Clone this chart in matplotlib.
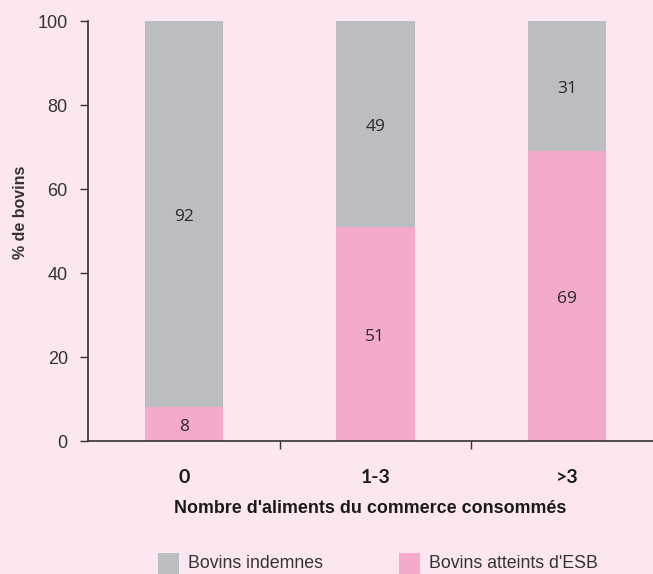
import matplotlib
matplotlib.use("Agg")
import matplotlib.pyplot as plt
from matplotlib.patches import Rectangle

categories = ["0", "1-3", ">3"]
esb = [8, 51, 69]
indemnes = [92, 49, 31]
yticks = [0, 20, 40, 60, 80, 100]
legend_labels = ["Bovins indemnes", "Bovins atteints d'ESB"]

bg = "#FCE6F0"
gray = "#BCBDC0"
pink = "#F3AACB"
txt = "#333333"

plt.rcParams['font.family'] = ['Liberation Sans', 'DejaVu Sans']

W, H = 653, 574
fig = plt.figure(figsize=(W/100, H/100), dpi=100, facecolor=bg)
ax = fig.add_axes([88/W, 1-441/H, 1-88/W, 420/H])
ax.set_facecolor(bg)

x = list(range(len(categories)))
w = 0.41
ax.bar(x, esb, width=w, color=pink, zorder=2)
ax.bar(x, indemnes, width=w, bottom=esb, color=gray, zorder=2)

for i in x:
    for val, ypos in ((esb[i], esb[i]/2), (indemnes[i], esb[i] + indemnes[i]/2)):
        ax.annotate(str(val), (i, ypos), xytext=(0, -2), textcoords='offset points',
                    ha='center', va='center', fontsize=12.5,
                    family=['Open Sans', 'DejaVu Sans'], color='#2a2a2a', zorder=3)

ax.set_xlim(-0.5, 2.45)
ax.set_ylim(0, 100)
ax.set_yticks(yticks)
ax.set_yticklabels([str(t) for t in yticks], fontsize=13, color=txt)
ax.tick_params(axis='y', length=6, width=1, color=txt, pad=8.5)

ax.set_xticks(x)
ax.set_xticklabels(categories, fontsize=14, fontweight='bold', color='#1a1a1a',
                   family=['Lato', 'DejaVu Sans'])
ax.tick_params(axis='x', which='major', length=0, pad=20)
ax.set_xticks([0.5, 1.5], minor=True)
ax.tick_params(axis='x', which='minor', length=6, width=1, color=txt)

for s in ['top', 'right']:
    ax.spines[s].set_visible(False)
for s in ['left', 'bottom']:
    ax.spines[s].set_color(txt)
    ax.spines[s].set_linewidth(1.2)

ax.set_ylabel("% de bovins", fontsize=11.5, fontweight='bold', color=txt)
ax.yaxis.set_label_coords(-(88-28)/(W-88), 1-(212-21)/420)
ax.set_xlabel("Nombre d'aliments du commerce consommés", fontsize=12.9, fontweight='bold',
              color='#1a1a1a', labelpad=10)

# legend drawn in figure pixel coordinates
leg_colors = [gray, pink]
sq_x = [158, 399]
for c, sx, lab in zip(leg_colors, sq_x, legend_labels):
    fig.add_artist(Rectangle((sx/W, 1-574/H), 21/W, 21/H, transform=fig.transFigure,
                             facecolor=c, edgecolor='none'))
    fig.text((sx+30)/W, 1-564/H, lab, ha='left', va='center', fontsize=12.8, color=txt)

fig.savefig("out.png", dpi=100, facecolor=bg)
